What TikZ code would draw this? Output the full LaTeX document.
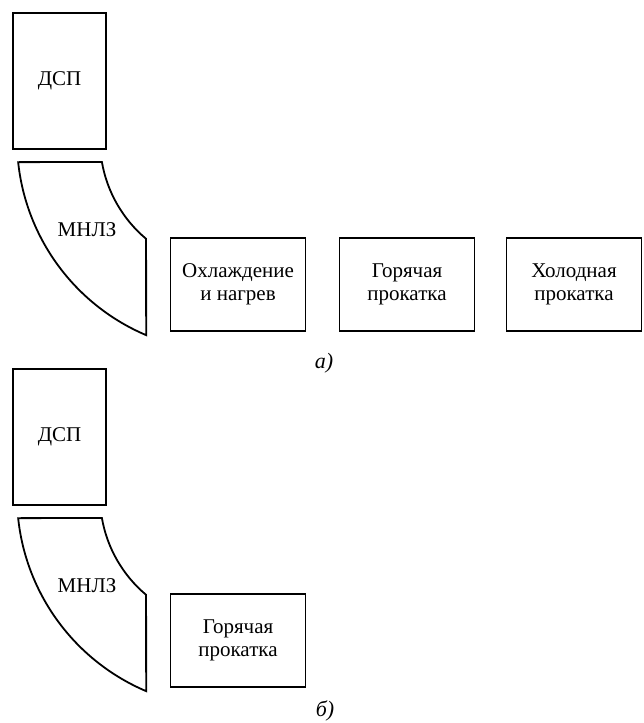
\documentclass[tikz,border=0pt]{standalone}
\usepackage{fontspec}
\setmainfont{Liberation Serif}

\tikzset{
  block/.style={draw, line width=0.9pt, align=center, inner sep=0pt,
    minimum width=67.5pt, minimum height=46.5pt,
    font=\fontsize{10.5}{11.5}\selectfont},
  lbl/.style={font=\fontsize{10.5}{11.5}\selectfont},
  caption/.style={font=\fontsize{11}{13}\selectfont\itshape},
}

\begin{document}
\begin{tikzpicture}[x=0.5pt, y=0.5pt]
  \useasboundingbox (0,0) rectangle (643,723);

  % furnace and caster, same in both schemes
  \foreach \s/\dy in {a/0, b/356} {
    \node[block, minimum width=46.5pt, minimum height=68pt]
      (dsp-\s) at (59.5, 642-\dy) {ДСП};
    \coordinate (c-\s) at (229, 583-\dy);
    \draw[line width=0.9pt]
      ([shift={(186:212)}]c-\s) -- ([shift={(189.8:129)}]c-\s)
      arc[start angle=189.8, end angle=230, radius=129]
      -- ([shift={(247:212)}]c-\s)
      arc[start angle=247, end angle=186, radius=212] -- cycle;
    \node[lbl] (mnlz-\s) at (87, 493-\dy) {МНЛЗ};
  }

  % a)
  \node[block] (cool) at (238, 438.5) {Охлаждение\\и нагрев};
  \node[block] (hot-a) at (407, 438.5) {Горячая\\прокатка};
  \node[block] (cold) at (574, 438.5) {Холодная\\прокатка};
  \node[caption] (cap-a) at (324, 360) {а)};

  % b)
  \node[block] (hot-b) at (238, 82.5) {Горячая\\прокатка};
  \node[caption] (cap-b) at (325, 12) {б)};
\end{tikzpicture}
\end{document}
